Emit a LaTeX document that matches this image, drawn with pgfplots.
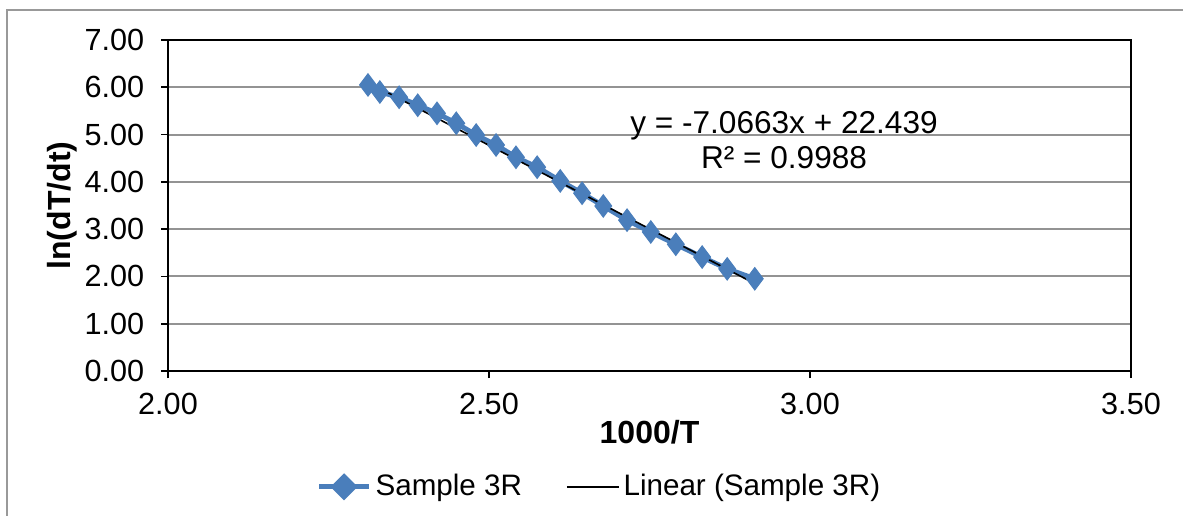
\documentclass[border=0pt]{standalone}
\usepackage{fontspec}
\setmainfont{Liberation Sans}
\usepackage{pgfplots}
\pgfplotsset{compat=1.18}
\definecolor{xlblue}{RGB}{74,126,187}
\begin{document}
\fontsize{12.5bp}{15bp}\selectfont
\begin{tikzpicture}
\useasboundingbox (0,0) rectangle (591.5bp,258bp);
\draw[gray!80, line width=1bp] (3.5bp,0) -- (3.5bp,253bp) -- (591.5bp,253bp);
\begin{axis}[
 at={(84bp,72.5bp)}, anchor=south west,
 scale only axis, width=481.5bp, height=165.5bp,
 xmin=2, xmax=3.5, ymin=0, ymax=7,
 xtick={2,2.5,3,3.5}, ytick={0,1,2,3,4,5,6,7},
 /pgf/number format/assume math mode=true,
 /pgf/number format/fixed, /pgf/number format/fixed zerofill, /pgf/number format/precision=2,
 tick label style={font=\fontsize{15.3bp}{18bp}\selectfont},
 xticklabel style={yshift=-3bp},
 yticklabel style={xshift=-4bp},
 xtick pos=bottom, ytick pos=left,
 tick align=outside, major tick length=3.5bp,
 tick style={black, line width=0.8bp},
 ymajorgrids, grid style={gray!85, line width=1bp},
 axis line style={black, line width=1bp},
 xlabel={\textbf{1000/T}}, ylabel={\textbf{ln(dT/dt)}},
 xlabel style={at={(axis description cs:0.5,-0.184)}, anchor=center, font=\fontsize{16bp}{18bp}\selectfont},
 ylabel style={at={(axis description cs:-0.110,0.5)}, anchor=center, font=\fontsize{16bp}{18bp}\selectfont},
 legend style={at={(0.449,-0.35)}, anchor=center, draw=none, legend columns=2,
   font=\fontsize{14.8bp}{17bp}\selectfont,
   /tikz/every even column/.append style={column sep=20bp}},
]
\addplot[xlblue, line width=2.5bp, mark=diamond*, mark size=5.6bp, mark options={fill=xlblue, draw=xlblue, line width=0.5bp},
  legend image code/.code={\draw[xlblue, line width=2.5bp] (0bp,0bp) -- (25bp,0bp);
    \fill[xlblue] (12.5bp,-5bp) -- (17.5bp,0bp) -- (12.5bp,5bp) -- (7.5bp,0bp) -- cycle;}]
 coordinates {
 (2.3115,6.05) (2.330,5.90) (2.360,5.79) (2.389,5.62) (2.419,5.45)
 (2.449,5.24) (2.480,4.99) (2.511,4.78) (2.542,4.52) (2.575,4.31)
 (2.611,4.02) (2.645,3.76) (2.678,3.49) (2.715,3.19) (2.752,2.94)
 (2.791,2.68) (2.832,2.41) (2.871,2.16) (2.914,1.95)
 };
\addlegendentry{Sample 3R}
\addplot[black, line width=0.8bp,
  legend image code/.code={\draw[black, line width=0.8bp] (0bp,0bp) -- (26bp,0bp);}]
 coordinates {(2.3115,6.105) (2.914,1.848)};
\addlegendentry{Linear (Sample 3R)}
\node[align=center, font=\fontsize{15.8bp}{17.5bp}\selectfont] at (axis cs:2.9595,4.89) {y = -7.0663x + 22.439\\R² = 0.9988};
\end{axis}
\end{tikzpicture}
\end{document}
